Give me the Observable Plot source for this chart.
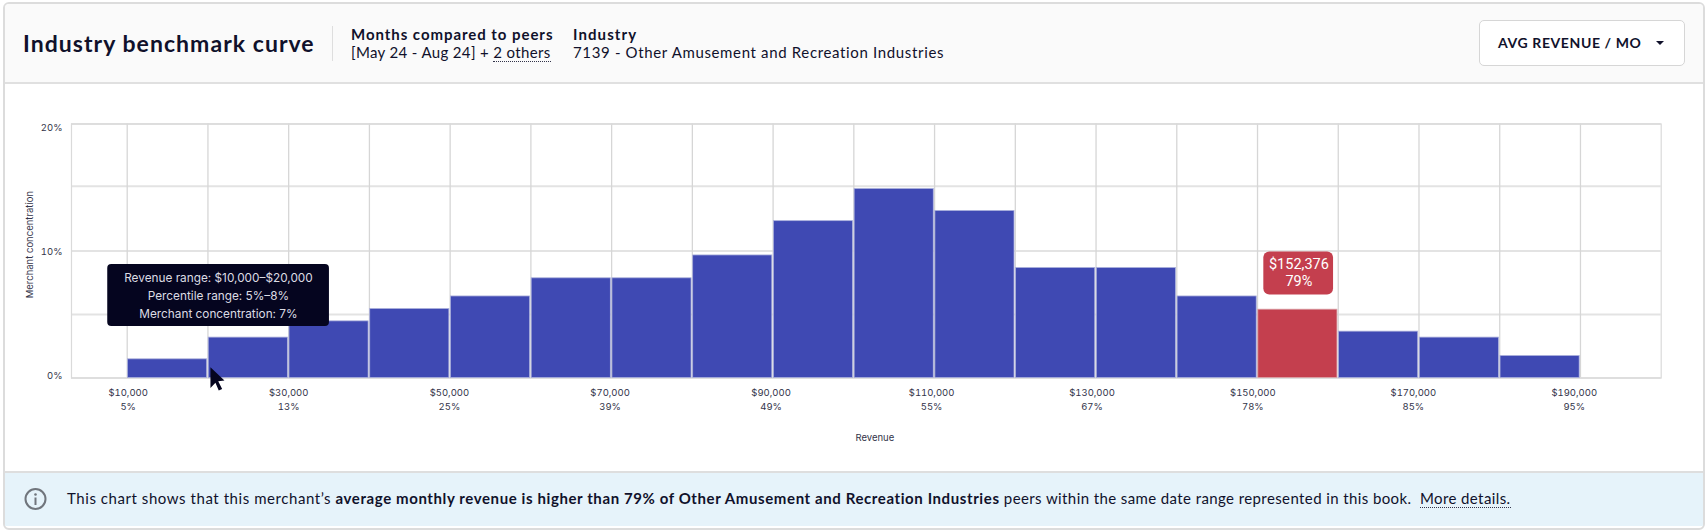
<!DOCTYPE html>
<html><head><meta charset="utf-8">
<script src="https://cdn.jsdelivr.net/npm/d3@7"></script>
<script src="https://cdn.jsdelivr.net/npm/@observablehq/plot@0.6"></script>
<style>
html,body{margin:0;padding:0;background:#fff;width:1708px;height:532px;overflow:hidden}
body{position:relative;font-family:Lato,sans-serif;color:#10112b}
.card{position:absolute;left:3px;top:2px;width:1698px;height:524px;border:2px solid #dcdcdc;border-radius:6px;background:#fff;overflow:hidden}
.abs{position:absolute;white-space:nowrap}
.hdr{position:absolute;left:0;top:0;width:100%;height:78px;background:#fafafa;border-bottom:2px solid #e0e0e0}
.ftr{position:absolute;left:0;top:467px;width:100%;height:55px;background:#e6f3fa;border-top:2px solid #dedede;box-sizing:border-box}
#chart{position:absolute;left:0;top:82px}
.dot{border-bottom:1.5px dotted #33344a}
b{font-weight:700}
</style></head><body>
<div class="card">
<div class="hdr"></div><div class="ftr"></div>
</div>
<div id="chart"></div>
<div class="abs" style="left:23px;top:28px;font-size:23px;font-weight:700;letter-spacing:1.05px;line-height:30px">Industry benchmark curve</div>
<div class="abs" style="left:332px;top:26px;width:1px;height:35px;background:#dedede"></div>
<div class="abs" style="left:351px;top:24px;font-size:15px;font-weight:700;letter-spacing:.95px;line-height:20px">Months compared to peers</div>
<div class="abs" style="left:351px;top:42px;font-size:15px;letter-spacing:.35px;line-height:20px">[May 24 - Aug 24] + <span class="dot">2 others</span></div>
<div class="abs" style="left:573px;top:24px;font-size:15px;font-weight:700;letter-spacing:1.1px;line-height:20px">Industry</div>
<div class="abs" style="left:573px;top:42px;font-size:15px;letter-spacing:.65px;line-height:20px">7139 - Other Amusement and Recreation Industries</div>
<div class="abs" style="left:1479px;top:20px;width:206px;height:46px;box-sizing:border-box;border:1px solid #d6d6d6;border-radius:5px;background:#fff"></div>
<div class="abs" style="left:1498px;top:33px;font-size:14px;font-weight:700;letter-spacing:.6px;line-height:20px">AVG REVENUE / MO</div>
<div class="abs" style="left:1656px;top:41px;width:0;height:0;border-left:4px solid transparent;border-right:4px solid transparent;border-top:4px solid #10112b"></div>
<svg class="abs" style="left:23px;top:487px" width="25" height="25" viewBox="0 0 25 25"><circle cx="12.5" cy="12" r="10" fill="none" stroke="#70757c" stroke-width="2"/><circle cx="12.5" cy="7.5" r="1.3" fill="#70757c"/><rect x="11.5" y="10.5" width="2" height="7.5" fill="#70757c"/></svg>
<div class="abs" style="left:67px;top:488px;font-size:15px;letter-spacing:.4px;line-height:20px"><span style="letter-spacing:.56px">This chart shows that this merchant’s </span><b style="letter-spacing:.6px">average monthly revenue is higher than 79% of Other Amusement and Recreation Industries</b> peers within the same date range represented in this book.&nbsp; <span class="dot">More details.</span></div>
<script>
// Histogram
const binStart = [10000,20000,30000,40000,50000,60000,70000,80000,90000,100000,110000,120000,130000,140000,150000,160000,170000,180000];
const binEnd   = [20000,30000,40000,50000,60000,70000,80000,90000,100000,110000,120000,130000,140000,150000,160000,170000,180000,190000];
const concentration = [1.47,3.18,4.46,5.43,6.42,7.85,7.85,9.65,12.35,14.88,13.15,8.66,8.66,6.42,5.38,3.65,3.18,1.73];
const highlightIndex = 14;
// Axes
const gridX = [10000,20000,30000,40000,50000,60000,70000,80000,90000,100000,110000,120000,130000,140000,150000,160000,170000,180000,190000];
const gridY = [0,5,10,15.1,20];
const tickLabelAt = [10120,30000,49910,69810,89750,109630,129500,149420,169300,189230];
const revenueLabels = ["$10,000","$30,000","$50,000","$70,000","$90,000","$110,000","$130,000","$150,000","$170,000","$190,000"];
const percentileLabels = ["5%","13%","25%","39%","49%","55%","67%","78%","85%","95%"];
const yLabelAt = [0.2,9.95,19.7];
const yLabels = ["0%","10%","20%"];
const xTitle = ["Revenue"], xTitleAt = [102600];
const yTitle = ["Merchant concentration"], yTitleAt = [10.5];
// Callouts
const callout = ["$152,376\n79%"];
const tooltip = ["Revenue range: $10,000–$20,000\nPercentile range: 5%–8%\nMerchant concentration: 7%"];
const hoverBin = 0;

const idx = d3.range(binStart.length);
const plain = idx.filter(i => i !== highlightIndex);
const ff = "Inter, sans-serif";
const arrow = {draw(c){c.moveTo(0,0);c.lineTo(0,20.7);c.lineTo(5,15.5);c.lineTo(8.3,23.3);c.lineTo(11.7,21.7);c.lineTo(7.8,14);c.lineTo(14,13.3);c.closePath();}};
const chart = Plot.plot({
  width:1708, height:390,
  marginLeft:71, marginRight:47.3, marginTop:41.5, marginBottom:94.5,
  style:{background:"transparent",overflow:"visible"},
  x:{domain:[3100,200000],axis:null},
  y:{domain:[0,20],axis:null},
  marks:[
    Plot.ruleY(gridY,{stroke:"#e3e3e3",strokeWidth:1.8}),
    Plot.ruleX(gridX,{stroke:"#d6d6d6",strokeWidth:1.3}),
    Plot.frame({stroke:"#dadada",strokeWidth:1.2}),
    Plot.rect(plain,{x1:i=>binStart[i],x2:i=>binEnd[i],y1:0,y2:i=>concentration[i],fill:"#3f49b3",stroke:"#a9aedb",strokeWidth:.8,insetLeft:.8,insetRight:.8}),
    Plot.rect([highlightIndex],{x1:i=>binStart[i],x2:i=>binEnd[i],y1:0,y2:i=>concentration[i],fill:"#c43f4e",stroke:"#dba3a9",strokeWidth:.8,insetLeft:.8,insetRight:.8}),
    Plot.axisX(tickLabelAt,{tickSize:0,tickPadding:0,label:null,lineHeight:1.47,fontSize:9.5,fontFamily:ff,fill:"#33344a",dy:8,tickFormat:(d,i)=>revenueLabels[i]+"\n"+percentileLabels[i]}),
    Plot.axisY(yLabelAt,{tickSize:0,tickPadding:0,label:null,fontSize:9.5,fontFamily:ff,fill:"#33344a",dx:-9,tickFormat:(d,i)=>yLabels[i]}),
    Plot.text(xTitle,{x:xTitleAt,frameAnchor:"bottom",lineAnchor:"middle",dy:60,fontSize:9.5,fontFamily:ff,fill:"#33344a"}),
    Plot.text(yTitle,{y:yTitleAt,frameAnchor:"left",textAnchor:"middle",dx:-42,rotate:-90,fontSize:9.5,fontFamily:ff,fill:"#33344a"}),
    // value callout above the highlighted bar
    Plot.rect([highlightIndex],{x1:i=>binStart[i],x2:i=>binEnd[i],y1:i=>concentration[i],y2:i=>concentration[i],insetLeft:6.3,insetRight:4.7,insetTop:-57.6,insetBottom:14.6,rx:6,fill:"#c43f4e"}),
    Plot.text(callout,{x:[(binStart[highlightIndex]+binEnd[highlightIndex])/2],y:[concentration[highlightIndex]],dx:1,dy:-37.5,lineHeight:1.15,fontSize:14.5,fontFamily:"Roboto, sans-serif",fill:"#fff"}),
    // hover tooltip
    Plot.rect([hoverBin],{x1:i=>binEnd[i],x2:i=>binEnd[i],y1:i=>concentration[i],y2:i=>concentration[i],insetLeft:-100.2,insetRight:-121.5,insetTop:-94.8,insetBottom:32.8,rx:4,fill:"#05051f"}),
    Plot.text(tooltip,{x:[binEnd[hoverBin]],y:[concentration[hoverBin]],dx:10.5,dy:-65,lineHeight:1.53,fontSize:11.8,fontFamily:ff,fill:"#dcdce4"}),
    Plot.dot([hoverBin],{x:i=>binEnd[i],y:[0.85],symbol:arrow,r:6,dx:2.5,fill:"#05051f",stroke:"none"})
  ]
});
document.getElementById("chart").append(chart);
</script>
</body></html>
